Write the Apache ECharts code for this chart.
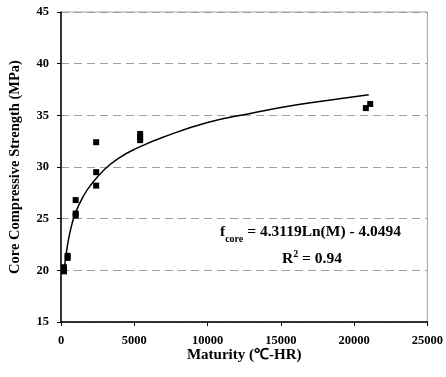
<!DOCTYPE html>
<html><head><meta charset="utf-8">
<script src="https://cdn.jsdelivr.net/npm/echarts@6/dist/echarts.min.js"></script>
<style>html,body{margin:0;padding:0;background:#fff}#c{width:446px;height:377px}</style>
</head><body><div id="c"></div>
<script>
// Measured data (Maturity °C-HR, core compressive strength MPa)
var maturity = [200, 200, 200, 450, 450, 1000, 1000, 1000, 2400, 2400, 2400, 5400, 5400, 5400, 20800, 21100];
var strength = [20.3, 19.9, 20.1, 21.2, 21.4, 26.8, 25.5, 25.3, 32.4, 29.5, 28.2, 33.2, 32.9, 32.6, 35.7, 36.1];
// Trendline
var trendM = [200, 300, 500, 750, 1000, 1500, 2000, 3000, 4000, 5000, 7000, 10000, 13000, 16000, 19000, 21000];
var trendF = [19.9, 21.0, 22.9, 24.5, 25.6, 27.1, 28.2, 29.8, 30.9, 31.7, 32.9, 34.3, 35.2, 36.0, 36.6, 37.0];
var xTicks = [0, 5000, 10000, 15000, 20000, 25000];
var yTicks = [15, 20, 25, 30, 35, 40, 45];

var pts = maturity.map(function (m, i) { return [m, strength[i]]; });
var trend = trendM.map(function (m, i) { return [m, trendF[i]]; });
var font = '"Liberation Serif", "Times New Roman", serif';

var chart = echarts.init(document.getElementById('c'), null, {renderer: 'canvas'});
chart.setOption({
  animation: false,
  backgroundColor: '#fff',
  grid: {left: 61, right: 17, top: 12, bottom: 55, show: true, borderColor: '#a0a0a0', borderWidth: 1},
  xAxis: {
    type: 'value', min: xTicks[0], max: xTicks[xTicks.length - 1], interval: 5000,
    name: 'Maturity (℃-HR)', nameLocation: 'middle', nameGap: 26, nameMoveOverlap: false,
    nameTextStyle: {fontFamily: font, fontWeight: 'bold', fontSize: 15, color: '#000'},
    axisLine: {lineStyle: {color: '#000', width: 1.5}},
    axisTick: {show: true, length: 4, inside: false, lineStyle: {color: '#000'}},
    axisLabel: {fontFamily: font, fontWeight: 'bold', fontSize: 12.5, color: '#000', margin: 12,
      formatter: function (v) { return String(v); }},
    splitLine: {show: false}
  },
  yAxis: {
    type: 'value', min: yTicks[0], max: yTicks[yTicks.length - 1], interval: 5,
    name: 'Core Compressive Strength (MPa)', nameLocation: 'middle', nameGap: 38, nameMoveOverlap: false,
    nameTextStyle: {fontFamily: font, fontWeight: 'bold', fontSize: 14.5, color: '#000'},
    axisLine: {lineStyle: {color: '#000', width: 1.5}},
    axisTick: {show: true, length: 4, inside: false, lineStyle: {color: '#000'}},
    axisLabel: {fontFamily: font, fontWeight: 'bold', fontSize: 12.5, color: '#000', margin: 12},
    splitLine: {show: true, lineStyle: {color: '#a0a0a0', type: [8, 5], width: 1}}
  },
  series: [
    {type: 'line', data: trend, smooth: true, showSymbol: false, symbol: 'none',
     lineStyle: {color: '#000', width: 1.5}, z: 3},
    {type: 'scatter', data: pts, symbol: 'rect', symbolSize: 6,
     itemStyle: {color: '#000', opacity: 1}, z: 4}
  ],
  graphic: [
    {type: 'text', left: 220, top: 224, z: 10,
     style: {text: '{f|f}{s|core}{t| = 4.3119Ln(M) - 4.0494}',
       rich: {
         f: {fontFamily: font, fontWeight: 'bold', fontSize: 15.5, fill: '#000', lineHeight: 18, verticalAlign: 'bottom'},
         s: {fontFamily: font, fontWeight: 'bold', fontSize: 10, fill: '#000', lineHeight: 18, verticalAlign: 'bottom', padding: [0, 0, -4, 0]},
         t: {fontFamily: font, fontWeight: 'bold', fontSize: 15.5, fill: '#000', lineHeight: 18, verticalAlign: 'bottom'}
       }}},
    {type: 'text', left: 282, top: 249, z: 10,
     style: {text: '{t|R}{s|2}{t| = 0.94}',
       rich: {
         t: {fontFamily: font, fontWeight: 'bold', fontSize: 15.5, fill: '#000', lineHeight: 18, verticalAlign: 'bottom'},
         s: {fontFamily: font, fontWeight: 'bold', fontSize: 10, fill: '#000', lineHeight: 18, verticalAlign: 'top'}
       }}}
  ]
});
</script></body></html>
